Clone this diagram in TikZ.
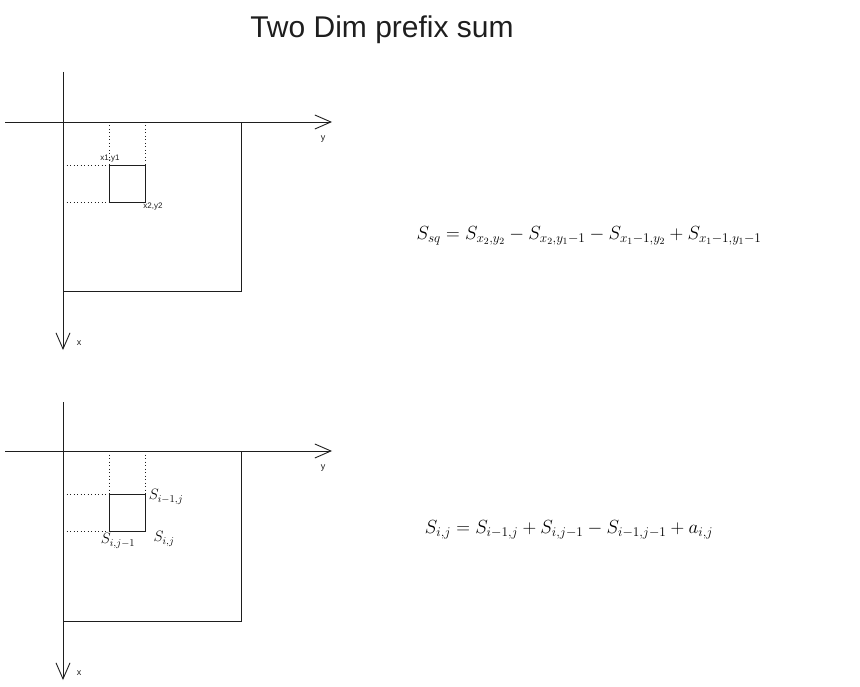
\documentclass[tikz,border=0pt]{standalone}
\usepackage{fix-cm}
\usepackage[no-math]{fontspec}
\setmainfont{Liberation Sans}
\usepackage{amsmath}
\usetikzlibrary{arrows.meta}
\definecolor{ink}{HTML}{1E1E1E}
\begin{document}
\begin{tikzpicture}[x=1pt,y=-1pt,
  axis/.style={draw=ink,line width=0.9pt,-{Straight Barb[length=16pt,width=14pt]}},
  boxline/.style={draw=ink,line width=0.9pt},
  dotline/.style={draw=ink,line width=0.8pt,dash pattern=on 1pt off 2.5pt},
  hand/.style={font=\fontsize{8}{8}\selectfont,text=ink,inner sep=0pt},
  lbl/.style={font=\fontsize{9}{9}\selectfont,text=ink,inner sep=0pt},
  eq/.style={font=\fontsize{19}{19}\selectfont,text=black,inner sep=0pt},
  seq/.style={font=\fontsize{15}{15}\selectfont,text=black,inner sep=0pt}]
\useasboundingbox (0,0) rectangle (860,687);
\node[text=ink,font=\fontsize{30}{30}\selectfont] (title) at (382,30) {Two Dim prefix sum};
% ---------- top diagram ----------
\coordinate (t-vs) at (63,72);
\coordinate (t-ve) at (63,350);
\coordinate (t-hs) at (5,122);
\coordinate (t-he) at (332,122);
\draw[axis] (t-vs) -- (t-ve);
\draw[axis] (t-hs) -- (t-he);
\node[lbl] (t-y) at (323,139) {y};
\node[lbl] (t-x) at (79,343) {x};
\draw[boxline] (63,122) rectangle (241,291);
\coordinate (t-a) at (109,165);
\coordinate (t-b) at (145,202);
\draw[boxline] (t-a) rectangle (t-b);
\coordinate (t-a1) at (109,122);
\coordinate (t-b1) at (145,122);
\coordinate (t-b2) at (145,165);
\coordinate (t-a2) at (63,165);
\coordinate (t-c) at (109,202);
\coordinate (t-c2) at (63,202);
\draw[dotline] (t-a1) -- (t-a);
\draw[dotline] (t-b1) -- (t-b2);
\draw[dotline] (t-a2) -- (t-a);
\draw[dotline] (t-c2) -- (t-c);
\node[hand] (t-l1) at (110,159) {x1,y1};
\node[hand] (t-l2) at (153,207) {x2,y2};
\node[eq] (t-eq) at (589,236) {$S_{sq} = S_{x_2,y_2} - S_{x_2,y_1-1} - S_{x_1-1,y_2} + S_{x_1-1,y_1-1}$};
% ---------- bottom diagram ----------
\coordinate (b-vs) at (63,402);
\coordinate (b-ve) at (63,680);
\coordinate (b-hs) at (5,451);
\coordinate (b-he) at (332,451);
\draw[axis] (b-vs) -- (b-ve);
\draw[axis] (b-hs) -- (b-he);
\node[lbl] (b-y) at (323,468) {y};
\node[lbl] (b-x) at (79,673) {x};
\draw[boxline] (63,451) rectangle (241,621);
\coordinate (b-a) at (109,494);
\coordinate (b-b) at (145,531);
\draw[boxline] (b-a) rectangle (b-b);
\coordinate (b-a1) at (109,451);
\coordinate (b-b1) at (145,451);
\coordinate (b-b2) at (145,494);
\coordinate (b-a2) at (63,494);
\coordinate (b-c) at (109,531);
\coordinate (b-c2) at (63,531);
\draw[dotline] (b-a1) -- (b-a);
\draw[dotline] (b-b1) -- (b-b2);
\draw[dotline] (b-a2) -- (b-a);
\draw[dotline] (b-c2) -- (b-c);
\node[seq] (b-l1) at (166,497) {$S_{i-1,j}$};
\node[seq] (b-l2) at (118,541) {$S_{i,j-1}$};
\node[seq] (b-l3) at (164,539) {$S_{i,j}$};
\node[eq] (b-eq) at (569,530) {$S_{i,j} = S_{i-1,j} + S_{i,j-1} - S_{i-1,j-1} + a_{i,j}$};
\end{tikzpicture}
\end{document}
